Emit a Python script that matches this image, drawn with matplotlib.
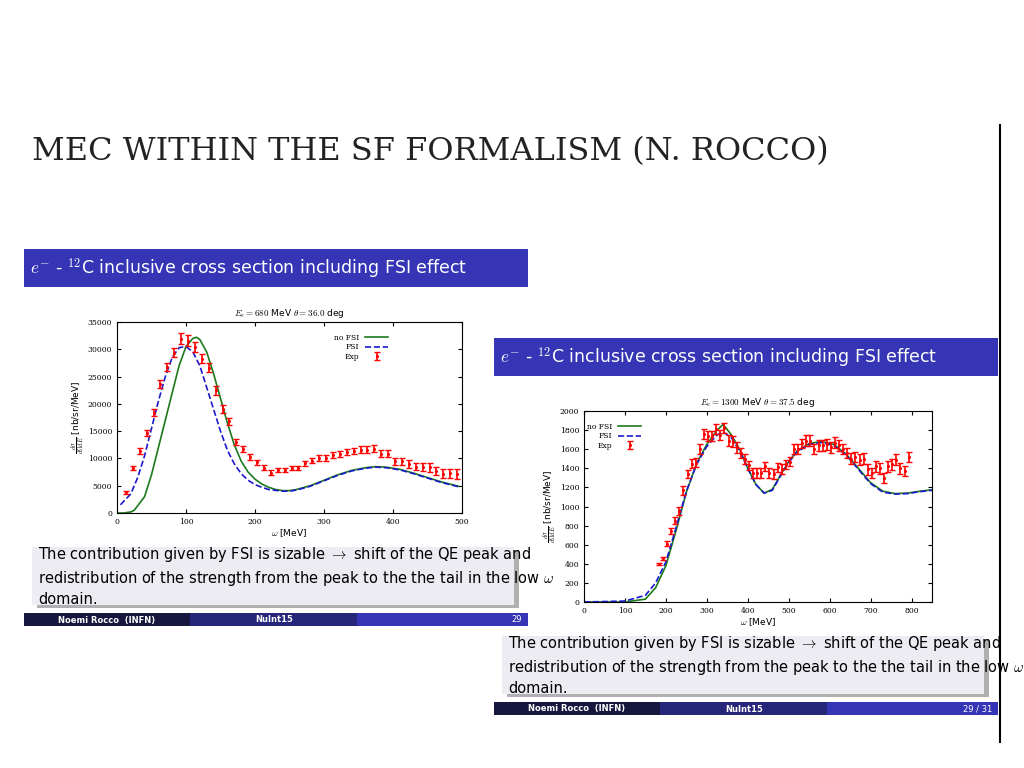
import matplotlib
matplotlib.use("Agg")
import matplotlib.pyplot as plt
import numpy as np
from matplotlib.patches import Rectangle

plt.rcParams['mathtext.fontset'] = 'cm'

# left panel: E = 680 MeV, theta = 36 deg
l_exp_y = [3800, 8300, 11400, 14600, 18400, 23600, 26800, 29400, 31900, 31600,
           30400, 28300, 26600, 22500, 19000, 16800, 13000, 11800, 10300, 9300,
           8300, 7400, 7900, 7900, 8300, 8300, 9100, 9600, 10100, 10100,
           10600, 10900, 11200, 11400, 11600, 11600, 11800, 10900, 10900, 9500,
           9500, 9000, 8500, 8400, 8400, 7700, 7200, 7300, 7100]
l_exp_x = 13 + 10 * np.arange(len(l_exp_y))
l_exp_err = [250, 400, 500, 550, 600, 700, 750, 850, 1000, 1000,
             950, 900, 850, 800, 750, 650, 600, 550, 500, 450,
             450, 400, 400, 400, 400, 400, 450, 450, 500, 500,
             500, 550, 550, 600, 600, 650, 700, 650, 650, 650,
             650, 700, 700, 750, 800, 800, 850, 850, 900]
l_nofsi_x = [0, 10, 20, 25, 40, 50, 60, 70, 80, 90, 100, 110, 115, 120, 130, 140, 150,
             160, 170, 180, 190, 200, 210, 220, 230, 240, 250, 260, 280, 300, 320,
             340, 360, 375, 390, 410, 430, 450, 470, 495]
l_nofsi_y = [0, 0, 200, 500, 3000, 7000, 12000, 17000, 22000, 27000, 30500, 32000, 32200,
             31800, 29500, 25500, 21000, 16500, 12500, 9500, 7500, 6200, 5300, 4700,
             4300, 4100, 4100, 4300, 5000, 6000, 7000, 7800, 8300, 8500, 8400, 8000,
             7300, 6500, 5700, 4900]
l_fsi_x = [5, 20, 30, 40, 50, 60, 70, 80, 90, 100, 110, 120, 130, 140, 150, 160, 170,
           180, 190, 200, 210, 220, 240, 250, 260, 280, 300, 320, 340, 360, 375, 390,
           410, 430, 450, 470, 495]
l_fsi_y = [1500, 3500, 6500, 10500, 15500, 20500, 25000, 28500, 30300, 30500, 29500,
           27000, 23000, 19000, 15000, 11500, 9000, 7200, 6000, 5200, 4700, 4300, 4000,
           4000, 4200, 4900, 5900, 6900, 7700, 8200, 8400, 8300, 7900, 7200, 6400,
           5600, 4800]

# right panel: E = 1300 MeV, theta = 37.5 deg
r_exp_y = [400, 460, 610, 740, 850, 950, 1170, 1340, 1450, 1460, 1600, 1760, 1740,
           1740, 1810, 1750, 1820, 1690, 1680, 1620, 1560, 1500, 1430, 1350, 1350,
           1350, 1420, 1350, 1340, 1410, 1390, 1440, 1470, 1600, 1600, 1660, 1690,
           1690, 1600, 1640, 1640, 1650, 1620, 1670, 1640, 1600, 1560, 1500, 1520,
           1490, 1500, 1390, 1350, 1420, 1400, 1300, 1420, 1440, 1490, 1400, 1370,
           1520]
r_exp_x = 183 + 10 * np.arange(len(r_exp_y))
r_exp_err = [10, 15, 25, 30, 35, 40, 45, 45, 50, 50, 50, 55, 55, 55, 55, 55, 55, 55,
             55, 55, 50, 50, 50, 50, 50, 50, 50, 50, 50, 50, 50, 50, 50, 50, 50, 50,
             55, 55, 55, 55, 55, 55, 55, 55, 55, 55, 55, 55, 55, 55, 55, 55, 55, 55,
             55, 55, 55, 55, 55, 55, 55, 55]
r_nofsi_x = [0, 100, 150, 175, 200, 225, 250, 275, 300, 325, 340, 360, 380, 400, 420,
             440, 460, 480, 500, 520, 550, 580, 610, 640, 670, 700, 730, 760, 790, 820, 850]
r_nofsi_y = [0, 0, 30, 150, 380, 750, 1150, 1450, 1650, 1800, 1860, 1750, 1600, 1400,
             1230, 1140, 1180, 1330, 1470, 1580, 1660, 1680, 1650, 1550, 1400, 1250,
             1160, 1135, 1140, 1160, 1175]
r_fsi_x = [0, 100, 150, 175, 200, 225, 250, 275, 300, 325, 340, 360, 380, 400, 420,
           440, 460, 480, 500, 520, 550, 580, 610, 640, 670, 700, 730, 760, 790, 820, 850]
r_fsi_y = [0, 10, 70, 200, 420, 780, 1160, 1440, 1630, 1750, 1780, 1720, 1580, 1400,
           1230, 1140, 1170, 1320, 1460, 1570, 1650, 1670, 1640, 1540, 1390, 1240,
           1150, 1130, 1135, 1155, 1170]

banner = r"$e^{-}$ - $^{12}$C inclusive cross section including FSI effect"
note = ("The contribution given by FSI is sizable $\\rightarrow$ shift of the QE peak and\n"
        "redistribution of the strength from the peak to the the tail in the low $\\omega$\n"
        "domain.")
ylab = r"$\frac{d\sigma}{d\Omega dE}$ [nb/sr/MeV]"

W, H = 1024, 768
fig = plt.figure(figsize=(W / 100, H / 100), dpi=100)


def px(x0, y0, x1, y1):
    return [x0 / W, 1 - y1 / H, (x1 - x0) / W, (y1 - y0) / H]


def frect(x0, y0, x1, y1, color, **kw):
    b = px(x0, y0, x1, y1)
    fig.patches.append(Rectangle((b[0], b[1]), b[2], b[3], transform=fig.transFigure,
                                 facecolor=color, edgecolor='none', **kw))


def ftext(x, y, s, **kw):
    fig.text(x / W, 1 - y / H, s, **kw)


# title and divider
ftext(32, 152, "MEC WITHIN THE SF FORMALISM (N. ROCCO)", family='DejaVu Serif',
      fontsize=23, va='center', color='#222222')
fig.add_artist(plt.Line2D([1000 / W, 1000 / W], [1 - 125 / H, 1 - 742 / H],
                          color='black', lw=1.5, transform=fig.transFigure))


def slide(bx, by, tby, fy, page):
    frect(bx, by, bx + 504, by + 38, '#3535b5')
    ftext(bx + 6, by + 20, banner, color='white', fontsize=12.5, va='center')
    frect(bx + 13, tby + 3, bx + 495, tby + 61, '#b0b0b0', zorder=-1)
    frect(bx + 8, tby, bx + 490, tby + 58, '#ececf2')
    ftext(bx + 14, tby + 29, note, fontsize=10.5, va='center', linespacing=1.35)
    frect(bx, fy, bx + 166, fy + 13, '#16163f')
    frect(bx + 166, fy, bx + 333, fy + 13, '#26267a')
    frect(bx + 333, fy, bx + 504, fy + 13, '#3535b5')
    ftext(bx + 83, fy + 7, "Noemi Rocco  (INFN)", color='white', fontsize=6,
          ha='center', va='center', weight='bold')
    ftext(bx + 250, fy + 7, "NuInt15", color='white', fontsize=6,
          ha='center', va='center', weight='bold')
    ftext(bx + 498, fy + 7, page, color='white', fontsize=6, ha='right', va='center')


slide(24, 249, 547, 613, "29")
slide(494, 338, 636, 702, "29 / 31")


def panel(rect, ex, ey, ee, nx, ny, fx, fy, xlim, ylim, ystep, title, loc):
    ax = fig.add_axes(px(*rect))
    ax.errorbar(ex, ey, yerr=ee, fmt='.', color='red', ms=2.5, elinewidth=1.2,
                capsize=2, capthick=1, label='Exp', zorder=3)
    ax.plot(nx, ny, color='#1c7a1c', lw=1.2, label='no FSI')
    ax.plot(fx, fy, color='#1a1acc', lw=1.2, ls='--', label='FSI')
    ax.set_xlim(*xlim)
    ax.set_ylim(*ylim)
    ax.set_yticks(np.arange(ylim[0], ylim[1] + 1, ystep))
    ax.tick_params(labelsize=5.5, direction='in', length=3, top=True, right=True)
    for t in ax.get_xticklabels() + ax.get_yticklabels():
        t.set_family('DejaVu Serif')
    ax.set_title(title, fontsize=6.5, pad=4)
    ax.set_xlabel(r"$\omega$ [MeV]", fontsize=6.5, labelpad=1)
    ax.set_ylabel(ylab, fontsize=6.5, labelpad=1)
    ax.legend(loc=loc, frameon=False, markerfirst=False,
              handlelength=3, labelspacing=0.2, prop={'family': 'DejaVu Serif', 'size': 5.5})
    return ax


panel((117, 322, 462, 513), l_exp_x, l_exp_y, l_exp_err, l_nofsi_x, l_nofsi_y,
      l_fsi_x, l_fsi_y, (0, 500), (0, 35000), 5000,
      r"$E_e = 680$ MeV $\theta = 36.0$ deg", (0.62, 0.78))
panel((584, 411, 932, 602), r_exp_x, r_exp_y, r_exp_err, r_nofsi_x, r_nofsi_y,
      r_fsi_x, r_fsi_y, (0, 850), (0, 2000), 200,
      r"$E_e = 1300$ MeV $\theta = 37.5$ deg", (0.0, 0.78))

fig.savefig("out.png", dpi=100)
